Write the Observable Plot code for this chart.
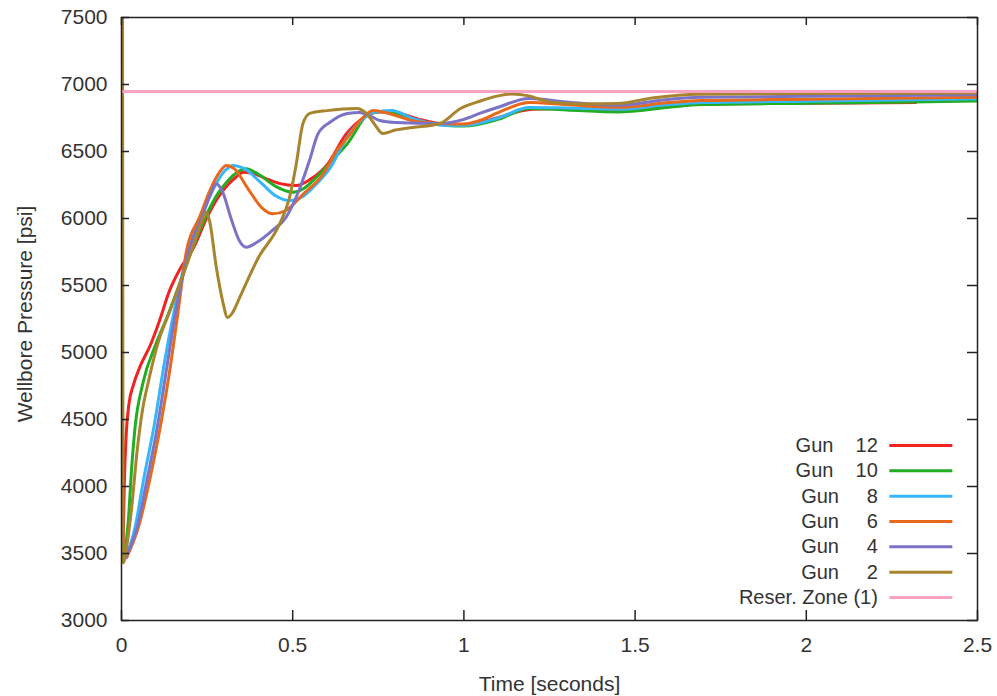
<!DOCTYPE html>
<html><head><meta charset="utf-8">
<script src="https://cdn.jsdelivr.net/npm/d3@7"></script>
<script src="https://cdn.jsdelivr.net/npm/@observablehq/plot@0.6"></script>
<style>
html,body{margin:0;padding:0;background:#fff;}
svg text{white-space:pre;}
</style></head><body><div id="chart"></div>
<script>
// ---- data ----
const xTicks = [0, 0.5, 1, 1.5, 2, 2.5];
const yTicks = [3000, 3500, 4000, 4500, 5000, 5500, 6000, 6500, 7000, 7500];
const seriesLabels = ["Gun    12", "Gun    10", "Gun     8", "Gun     6", "Gun     4", "Gun     2"];
const reservoirLabel = "Reser. Zone (1)";
const reservoirPressure = 6948;

// [time s, pressure psi]
const gun12 = [[0.004,3460],[0.008,4000],[0.014,4400],[0.022,4620],[0.035,4760],[0.055,4900],[0.085,5060],[0.11,5230],[0.14,5460],[0.17,5620],[0.21,5780],[0.25,6010],[0.28,6150],[0.31,6250],[0.335,6310],[0.355,6346],[0.38,6340],[0.42,6300],[0.46,6262],[0.51,6246],[0.55,6290],[0.6,6400],[0.657,6632],[0.7,6740],[0.75,6795],[0.8,6790],[0.87,6740],[0.95,6700],[1.0,6695],[1.08,6740],[1.2,6815],[1.3,6820],[1.45,6806],[1.6,6835],[1.69,6855],[2.0,6860],[2.32,6866]];
const gun10 = [[0.008,3470],[0.02,3746],[0.03,4150],[0.04,4450],[0.062,4766],[0.1,5060],[0.131,5250],[0.17,5513],[0.205,5761],[0.245,6010],[0.28,6180],[0.31,6280],[0.335,6340],[0.364,6371],[0.4,6330],[0.45,6240],[0.5,6196],[0.53,6220],[0.56,6284],[0.61,6420],[0.66,6560],[0.725,6784],[0.77,6800],[0.83,6760],[0.9,6710],[0.95,6694],[1.0,6690],[1.1,6740],[1.19,6821],[1.3,6810],[1.45,6795],[1.6,6830],[1.69,6850],[2.0,6860],[2.5,6876]];
const gun8 = [[0.012,3470],[0.04,3700],[0.064,4045],[0.095,4450],[0.127,4950],[0.153,5300],[0.195,5761],[0.232,6010],[0.27,6230],[0.3,6350],[0.325,6396],[0.36,6370],[0.41,6260],[0.45,6170],[0.49,6134],[0.53,6165],[0.57,6260],[0.61,6380],[0.657,6600],[0.7,6730],[0.735,6790],[0.79,6806],[0.85,6746],[0.95,6694],[1.0,6695],[1.1,6750],[1.19,6828],[1.3,6825],[1.45,6815],[1.6,6850],[1.69,6865],[2.0,6875],[2.5,6893]];
const gun6 = [[0.015,3470],[0.05,3700],[0.082,4045],[0.11,4400],[0.14,4850],[0.165,5300],[0.19,5761],[0.228,6010],[0.26,6220],[0.285,6340],[0.306,6396],[0.33,6370],[0.37,6220],[0.41,6080],[0.442,6035],[0.48,6060],[0.53,6180],[0.59,6336],[0.627,6500],[0.66,6604],[0.7,6740],[0.735,6806],[0.78,6784],[0.85,6730],[0.93,6709],[1.0,6705],[1.046,6731],[1.1,6790],[1.19,6866],[1.3,6850],[1.45,6830],[1.6,6865],[1.69,6880],[2.0,6890],[2.5,6905]];
const gun4 = [[0.012,3470],[0.046,3700],[0.074,4045],[0.103,4420],[0.133,4900],[0.158,5300],[0.197,5761],[0.235,6010],[0.26,6180],[0.277,6259],[0.295,6200],[0.32,6000],[0.345,5830],[0.364,5786],[0.4,5830],[0.44,5910],[0.48,6007],[0.52,6220],[0.549,6433],[0.574,6632],[0.61,6720],[0.66,6784],[0.696,6791],[0.73,6760],[0.754,6731],[0.8,6716],[0.93,6709],[1.0,6740],[1.046,6784],[1.1,6830],[1.19,6896],[1.3,6870],[1.45,6845],[1.6,6890],[1.69,6905],[2.0,6912],[2.5,6923]];
const gun2 = [[0.003,7800],[0.005,3430],[0.015,3550],[0.03,3850],[0.045,4250],[0.06,4550],[0.08,4800],[0.11,5100],[0.14,5300],[0.17,5513],[0.205,5761],[0.24,6010],[0.247,6047],[0.257,5985],[0.277,5634],[0.295,5388],[0.31,5261],[0.325,5300],[0.345,5410],[0.4,5709],[0.46,5950],[0.49,6150],[0.51,6400],[0.53,6709],[0.55,6784],[0.6,6805],[0.687,6821],[0.715,6784],[0.74,6700],[0.763,6634],[0.8,6660],[0.85,6679],[0.93,6709],[0.99,6821],[1.046,6875],[1.1,6915],[1.14,6930],[1.19,6915],[1.25,6870],[1.35,6855],[1.45,6858],[1.55,6900],[1.69,6928],[2.0,6932],[2.5,6936]];

// ---- styles ----
const seriesColors = ["#f22222", "#22ad22", "#38b6fa", "#e8691c", "#7b73c6", "#a8842f"];
const reservoirColor = "#f6a2c0";
const series = [gun12, gun10, gun8, gun6, gun4, gun2].map((d, i) => ({label: seriesLabels[i], color: seriesColors[i], data: d}));

const W = 997, H = 696, mL = 121, mR = 20, mT = 17, mB = 76;
const innerW = W - mL - mR, innerH = H - mT - mB;

// legend placement (data units)
const legendTextT = 2.209, legendLineT1 = 2.244, legendLineT2 = 2.428;
const legendTopP = 4306, legendStepP = 189;
const legendRows = series.map(s => ({label: s.label, color: s.color}))
  .concat([{label: reservoirLabel, color: reservoirColor}])
  .map((r, i) => ({...r, p: legendTopP - i * legendStepP}));

const textColor = "#333";
const chart = Plot.plot({
  width: W, height: H,
  marginLeft: mL, marginRight: mR, marginTop: mT, marginBottom: mB,
  style: {fontFamily: "'Liberation Sans', Arial, sans-serif", fontSize: "21px", color: textColor, background: "#fff"},
  x: {domain: [0, 2.5]},
  y: {domain: [3000, 7500]},
  marks: [
    Plot.axisX({ticks: xTicks, tickSize: 0, tickPadding: 17, tickFormat: d => String(d), label: null, fontSize: 21}),
    Plot.axisY({ticks: yTicks, tickSize: 0, tickPadding: 14, tickFormat: d => String(d), label: null, fontSize: 21}),
    ...series.map(s => Plot.line(s.data, {x: d => d[0], y: d => d[1], stroke: s.color, strokeWidth: 3, curve: "monotone-x", clip: true})),
    Plot.ruleY([reservoirPressure], {stroke: reservoirColor, strokeWidth: 3}),
    Plot.tickX(xTicks, {x: d => d, insetTop: innerH - 10, stroke: "#222", strokeWidth: 1.5}),
    Plot.tickX(xTicks, {x: d => d, insetBottom: innerH - 8, stroke: "#222", strokeWidth: 1.5}),
    Plot.tickY(yTicks, {y: d => d, insetRight: innerW - 8, stroke: "#222", strokeWidth: 1.5}),
    Plot.tickY(yTicks, {y: d => d, insetLeft: innerW - 10, stroke: "#222", strokeWidth: 1.5}),
    Plot.frame({stroke: "#222", strokeWidth: 1.5}),
    Plot.ruleY(legendRows, {y: "p", x1: legendLineT1, x2: legendLineT2, stroke: "color", strokeWidth: 3}),
    Plot.text(legendRows, {x: legendTextT, y: "p", text: "label", textAnchor: "end", fontSize: 20, fill: textColor}),
    Plot.text(["Wellbore Pressure [psi]"], {frameAnchor: "left", textAnchor: "middle", lineAnchor: "middle", rotate: -90, dx: -96, dy: -5, fontSize: 21, fill: textColor}),
    Plot.text(["Time [seconds]"], {frameAnchor: "bottom", textAnchor: "middle", lineAnchor: "middle", dy: 64, fontSize: 21, fill: textColor})
  ]
});
document.getElementById("chart").appendChild(chart);
</script></body></html>
